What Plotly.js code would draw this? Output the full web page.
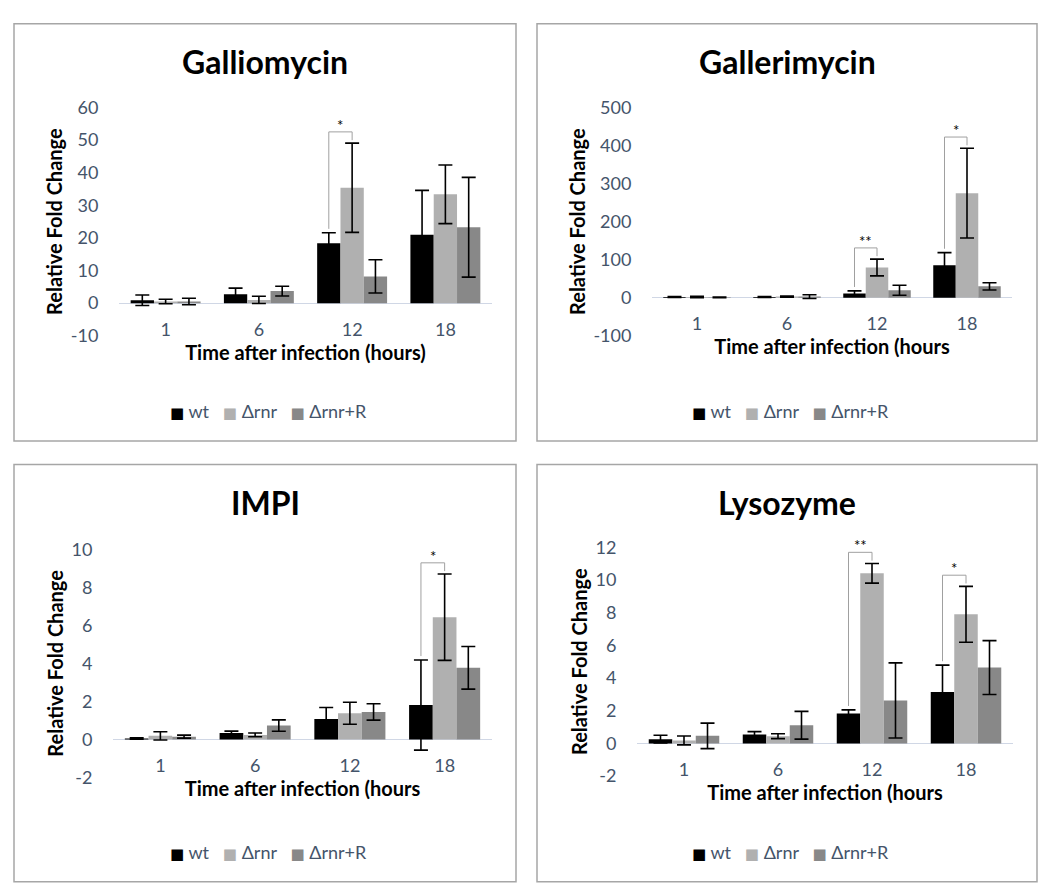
<!DOCTYPE html>
<html>
<head>
<meta charset="utf-8">
<script src="https://cdn.plot.ly/plotly-3.0.1.min.js"></script>
<style>html,body{margin:0;padding:0;background:#fff;}#chart{width:1040px;height:886px;}</style>
</head>
<body>
<div id="chart"></div>
<script>
// ---------- data ----------
const categories = ['1', '6', '12', '18'];
const seriesNames = ['wt', 'Δrnr', 'Δrnr+R'];
const seriesColors = ['#000000', '#b0b0b0', '#888888'];
const panelTitles = ['Galliomycin', 'Gallerimycin', 'IMPI', 'Lysozyme'];
const xTitles = ['Time after infection (hours)', 'Time after infection (hours', 'Time after infection (hours', 'Time after infection (hours'];
const yTitle = 'Relative Fold Change';

// Galliomycin
const galliomycin_wt = [0.9, 2.7, 18.4, 21.0];
const galliomycin_wt_err = [1.6, 1.9, 3.2, 13.6];
const galliomycin_rnr = [0.5, 1.0, 35.4, 33.4];
const galliomycin_rnr_err = [0.7, 1.1, 13.7, 9.0];
const galliomycin_rnrR = [0.5, 3.7, 8.2, 23.3];
const galliomycin_rnrR_err = [1.0, 1.5, 5.1, 15.3];

// Gallerimycin
const gallerimycin_wt = [2, 2, 11, 85.5];
const gallerimycin_wt_err = [1, 1, 7, 33];
const gallerimycin_rnr = [2, 3, 79.5, 275];
const gallerimycin_rnr_err = [2, 1.5, 22, 118];
const gallerimycin_rnrR = [1, 3, 19.7, 30];
const gallerimycin_rnrR_err = [1, 5, 13, 9.5];

// IMPI
const impi_wt = [0.05, 0.34, 1.08, 1.81];
const impi_wt_err = [0.04, 0.1, 0.6, 2.37];
const impi_rnr = [0.19, 0.24, 1.38, 6.43];
const impi_rnr_err = [0.22, 0.1, 0.58, 2.27];
const impi_rnrR = [0.15, 0.73, 1.45, 3.77];
const impi_rnrR_err = [0.08, 0.3, 0.43, 1.12];

// Lysozyme
const lysozyme_wt = [0.26, 0.54, 1.83, 3.14];
const lysozyme_wt_err = [0.24, 0.18, 0.22, 1.65];
const lysozyme_rnr = [0.18, 0.44, 10.41, 7.9];
const lysozyme_rnr_err = [0.27, 0.15, 0.6, 1.71];
const lysozyme_rnrR = [0.46, 1.11, 2.63, 4.64];
const lysozyme_rnrR_err = [0.78, 0.85, 2.3, 1.65];

// y axis ranges / tick steps
const yRanges = [[-10, 60], [-100, 500], [-2, 10], [-2, 12]];
const yDticks = [10, 100, 2, 2];

// significance brackets (wt vs Δrnr)
const sigPanel = [0, 1, 1, 2, 3, 3];
const sigCategory = ['12', '12', '18', '18', '12', '18'];
const sigLabel = ['*', '**', '*', '*', '**', '*'];

// ---------- layout geometry (pixels) ----------
const W = 1040, H = 886;
const plotX = [[119, 492], [652, 1012], [113, 492], [637, 1013]];
const plotY = [[98, 332], [98, 332], [551, 785], [549, 783.5]]; // top, bottom
const boxes = [[14, 12, 516, 440], [537, 12, 1037, 440], [14, 464, 516, 892], [537, 464, 1037, 892]];

const panelData = [
  [[galliomycin_wt, galliomycin_wt_err], [galliomycin_rnr, galliomycin_rnr_err], [galliomycin_rnrR, galliomycin_rnrR_err]],
  [[gallerimycin_wt, gallerimycin_wt_err], [gallerimycin_rnr, gallerimycin_rnr_err], [gallerimycin_rnrR, gallerimycin_rnrR_err]],
  [[impi_wt, impi_wt_err], [impi_rnr, impi_rnr_err], [impi_rnrR, impi_rnrR_err]],
  [[lysozyme_wt, lysozyme_wt_err], [lysozyme_rnr, lysozyme_rnr_err], [lysozyme_rnrR, lysozyme_rnrR_err]]
];

const FONT = 'Lato, "Open Sans", sans-serif';
const TICKCOLOR = '#44546a';

const traces = [];
const layout = {
  width: W, height: H,
  margin: {l: 0, r: 0, t: 0, b: 0},
  paper_bgcolor: '#ffffff', plot_bgcolor: 'rgba(0,0,0,0)',
  barmode: 'group', bargap: 0.25, bargroupgap: 0,
  showlegend: false,
  font: {family: FONT},
  shapes: [], annotations: []
};

function yToPx(p, v) {
  const [lo, hi] = yRanges[p];
  const [top, bot] = plotY[p];
  return bot - (v - lo) / (hi - lo) * (bot - top);
}

for (let p = 0; p < 4; p++) {
  const xa = p === 0 ? 'x' : 'x' + (p + 1);
  const ya = p === 0 ? 'y' : 'y' + (p + 1);
  const xKey = p === 0 ? 'xaxis' : 'xaxis' + (p + 1);
  const yKey = p === 0 ? 'yaxis' : 'yaxis' + (p + 1);

  panelData[p].forEach((s, i) => {
    traces.push({
      type: 'bar', x: categories, y: s[0], name: seriesNames[i],
      xaxis: xa, yaxis: ya,
      marker: {color: seriesColors[i], line: {width: 0}},
      error_y: {type: 'data', array: s[1], visible: true, color: '#000000', thickness: 1.6, width: 7},
      hoverinfo: 'skip'
    });
  });

  // tick values with plain hyphen minus, as in the original
  const tv = [];
  for (let v = yRanges[p][0]; v <= yRanges[p][1] + 1e-9; v += yDticks[p]) tv.push(v);
  const tt = tv.map(v => String(v));

  const zeroPx = yToPx(p, 0);
  layout[xKey] = {
    domain: [plotX[p][0] / W, plotX[p][1] / W],
    anchor: 'free', position: 1 - (zeroPx + 14) / H,
    type: 'category', categoryorder: 'array', categoryarray: categories,
    showline: false, showgrid: false, zeroline: false, ticks: '',
    tickfont: {family: FONT, size: 18, color: TICKCOLOR},
    title: {text: xTitles[p], font: {family: FONT, size: 20, color: '#000000', weight: 700}, standoff: 3},
    automargin: true, fixedrange: true
  };
  layout[yKey] = {
    domain: [1 - plotY[p][1] / H, 1 - plotY[p][0] / H],
    anchor: xa, range: yRanges[p], tickmode: 'array', tickvals: tv, ticktext: tt,
    showline: false, showgrid: false,
    zeroline: true, zerolinecolor: '#d0d7e5', zerolinewidth: 1.2,
    ticks: 'outside', ticklen: 16, tickcolor: 'rgba(0,0,0,0)',
    tickfont: {family: FONT, size: 18, color: TICKCOLOR},
    title: {text: yTitle, font: {family: FONT, size: 20, color: '#000000', weight: 700}, standoff: 2},
    automargin: true, fixedrange: true
  };

  // panel frame
  const b = boxes[p];
  layout.shapes.push({type: 'rect', xref: 'paper', yref: 'paper',
    x0: b[0] / W, x1: b[2] / W, y0: 1 - b[3] / H, y1: 1 - b[1] / H,
    line: {color: '#a6a6a6', width: 1.5}, fillcolor: 'rgba(0,0,0,0)', layer: 'below'});

  // panel title
  layout.annotations.push({xref: 'paper', yref: 'paper', x: (b[0] + b[2]) / 2 / W, y: 1 - (b[1] + 39) / H,
    xanchor: 'center', yanchor: 'middle', showarrow: false, text: panelTitles[p],
    font: {family: FONT, size: 32, color: '#000000', weight: 700}});

  // legend (built from series names / colours)
  const legText = seriesNames.map((n, i) =>
    '<span style="color:' + seriesColors[i] + ';font-family:DejaVu Sans;font-size:15px">■</span>' +
    '<span style="color:' + TICKCOLOR + '">\u00a0' + n + '</span>').join('\u00a0\u00a0\u00a0');
  layout.annotations.push({xref: 'paper', yref: 'paper', x: ((b[0] + b[2]) / 2 + 3) / W, y: 1 - (b[1] + 397) / H,
    xanchor: 'center', yanchor: 'middle', showarrow: false, text: legText,
    font: {family: FONT, size: 18, color: TICKCOLOR}});
}

// significance brackets, computed from bar tops + error bars
sigPanel.forEach((p, k) => {
  const xa = p === 0 ? 'x' : 'x' + (p + 1);
  const ya = p === 0 ? 'y' : 'y' + (p + 1);
  const ci = categories.indexOf(sigCategory[k]);
  const [lo, hi] = yRanges[p];
  const unitPerPx = (hi - lo) / (plotY[p][1] - plotY[p][0]);
  const wtTop = panelData[p][0][0][ci] + panelData[p][0][1][ci];
  const rnrTop = panelData[p][1][0][ci] + panelData[p][1][1][ci];
  const top = Math.max(wtTop, rnrTop) + 11.5 * unitPerPx;
  const xl = ci - 0.25, xr = ci;
  const ln = {color: '#a0a0a0', width: 1};
  layout.shapes.push({type: 'line', xref: xa, yref: ya, x0: xl, x1: xl, y0: wtTop + 4 * unitPerPx, y1: top, line: ln});
  layout.shapes.push({type: 'line', xref: xa, yref: ya, x0: xl, x1: xr, y0: top, y1: top, line: ln});
  layout.shapes.push({type: 'line', xref: xa, yref: ya, x0: xr, x1: xr, y0: top, y1: rnrTop + 3 * unitPerPx, line: ln});
  layout.annotations.push({xref: xa, yref: ya, x: (xl + xr) / 2, y: top, yanchor: 'bottom', yshift: -4,
    showarrow: false, text: sigLabel[k], font: {family: FONT, size: 15, color: '#000000'}});
});

Plotly.newPlot('chart', traces, layout, {staticPlot: true, displayModeBar: false});
</script>
</body>
</html>
